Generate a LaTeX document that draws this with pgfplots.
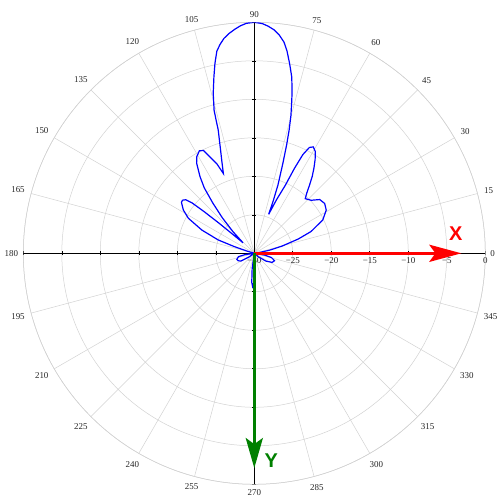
\documentclass[border=0pt]{standalone}
\usepackage{fontspec}
\setmainfont{Liberation Serif}
\newfontfamily\sansfont{Liberation Sans}
\usepackage{pgfplots}
\usepackage{pgfplotstable}
\pgfplotsset{compat=1.18}
\usepgfplotslibrary{polar}
\usetikzlibrary{arrows.meta}

\newcommand\htick[2]{\draw[black, line width=0.6bp] ([yshift=-2bp]axis cs:#1,#2) -- ([yshift=2bp]axis cs:#1,#2);}
\newcommand\vtick[2]{\draw[black, line width=0.6bp] ([xshift=-2bp]axis cs:#1,#2) -- ([xshift=2bp]axis cs:#1,#2);}

% antenna pattern: angle (deg), gain (dB); -30 dB is the centre of the plot
\pgfplotstableread{
a db
0 -30
5 -30
8 -29.5
11.5 -28
14.5 -26.3
18 -24.0
21 -22.1
26 -20.1
31 -19.1
35.3 -18.8
39.4 -19.0
43 -19.9
47 -20.3
49 -19.6
51 -18.6
53 -17.5
55 -16.5
57 -15.5
59 -14.6
61 -14.2
62.5 -14.5
63.8 -15.7
64.7 -17.8
65.5 -20.3
67.5 -22.5
69.75 -24.6
70.2 -22.65
70.9 -20.6
72.4 -17.7
73.4 -15.3
74.2 -13.4
75.1 -11.5
76.2 -9.6
76.9 -8.35
78.0 -6.6
79.4 -5.0
80.8 -3.4
82.0 -2.3
83.5 -1.45
85.0 -0.85
86.5 -0.45
88.0 -0.15
90 0
92.0 -0.12
93.5 -0.4
95.0 -0.8
96.5 -1.25
98.0 -1.8
99.3 -2.5
100.5 -3.3
101.7 -4.8
102.9 -6.5
104.4 -8.55
105.7 -10.7
106.0 -12.0
106.3 -13.3
108.1 -15.9
109.5 -17.4
111.2 -18.9
112.7 -17.4
114.6 -16.3
116.3 -15.1
118.2 -14.9
120.8 -15.4
122.6 -16.1
125.3 -17.8
127.4 -19.3
129.5 -21.5
132 -23.8
134.5 -26
137 -28
138.5 -26.5
139.5 -24
140.3 -21.5
141 -19.6
142 -18.7
143.5 -18.4
145 -18.45
148.6 -19.2
152 -20.3
156.1 -22.55
159.7 -25.0
161.5 -27.3
163 -29
165 -30
185 -30
188 -28.8
192 -27.9
199 -27.6
205 -27.7
210 -28.0
215 -29.2
218 -30
258 -30
262 -28
265 -26.2
267 -25.7
269 -26.2
272 -28
276 -30
316 -30
320 -29.3
326 -28.2
333 -27.4
340 -27.2
346 -27.7
350 -28.6
355 -30
360 -30
}\pattern

\begin{document}
\begin{tikzpicture}
\begin{polaraxis}[
  scale only axis, width=462bp, height=462bp,
  xmin=0, xmax=360, ymin=0, ymax=30,
  xtick={0,15,...,345},
  ytick={0,5,...,30},
  yticklabels={−30,−25,−20,−15,−10,−5,0},
  xticklabel={\pgfmathprintnumber{\tick}},
  /pgf/number format/assume math mode=true,
  ticklabel style={font=\fontsize{9}{10}\selectfont, text=black!85},
  xticklabel style={inner sep=5bp},
  yticklabel style={anchor=north, inner sep=0pt, yshift=-4bp},
  grid=major,
  major grid style={gray!35, line width=0.5bp},
  axis line style={gray!35, line width=0.5bp},
  tick style={draw=none},
]
\coordinate (C) at (axis cs:0,0);
% black cross axes with ticks
\draw[black, line width=0.6bp] (axis cs:180,30) -- (axis cs:0,30);
\draw[black, line width=0.6bp] (axis cs:90,30) -- (axis cs:270,30);
\htick{0}{5}\htick{0}{10}\htick{0}{15}\htick{0}{20}\htick{0}{25}\htick{0}{30}
\htick{180}{5}\htick{180}{10}\htick{180}{15}\htick{180}{20}\htick{180}{25}\htick{180}{30}
\vtick{90}{5}\vtick{90}{10}\vtick{90}{15}\vtick{90}{20}\vtick{90}{25}\vtick{90}{30}
\vtick{270}{5}\vtick{270}{10}\vtick{270}{15}\vtick{270}{20}\vtick{270}{25}\vtick{270}{30}
\addplot[blue, line width=1.2bp, no markers, y filter/.expression={y+30}] table[x=a, y=db] {\pattern};
% axis arrows
\draw[red, line width=3.5bp, -{Stealth[length=32bp,width=17bp,inset=6bp]}] (axis cs:0,0) -- (axis cs:0,26.9);
\draw[green!50!black, line width=3.5bp, -{Stealth[length=30bp,width=17bp,inset=6bp]}] (axis cs:0,0) -- (axis cs:270,27.9);
\node[text=red, font=\sansfont\bfseries\fontsize{20}{20}\selectfont] at ([shift={(201.5bp,19.3bp)}]axis cs:0,0) {X};
\node[text=green!50!black, font=\sansfont\bfseries\fontsize{20}{20}\selectfont] at ([shift={(16.9bp,-207.5bp)}]axis cs:0,0) {Y};
\end{polaraxis}
\pgfresetboundingbox
\path[use as bounding box] ([shift={(-254.3bp,-246.7bp)}]C) rectangle ([shift={(243.7bp,253.3bp)}]C);
\end{tikzpicture}
\end{document}
